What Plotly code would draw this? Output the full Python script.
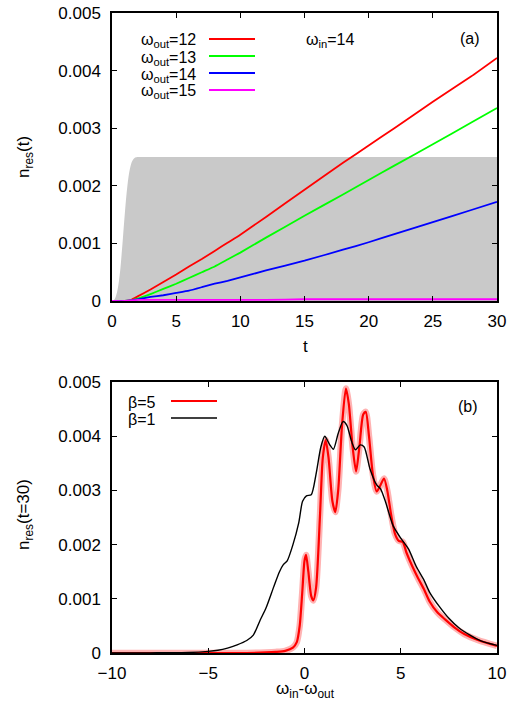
import plotly.graph_objects as go

# ---------------- data: panel (a) ----------------
t_env = [0, 0.2, 0.4, 0.6, 0.8, 1.0, 1.2, 1.4, 1.6, 1.8, 2.0, 2.5, 30]
env = [0, 0.00003, 0.00016, 0.00045, 0.00095, 0.00152, 0.00200, 0.00230, 0.00244, 0.00249, 0.0025, 0.0025, 0.0025]

t = [0, 1, 1.5, 2, 3, 4, 5, 6, 7, 8, 9, 10, 12, 15, 18, 20, 22, 25, 28, 30]
n_out12 = [0, 0, 0.00002, 0.00008, 0.00020, 0.00033, 0.00046, 0.00060, 0.00073, 0.00087, 0.00101,
           0.00115, 0.00146, 0.00193, 0.00240, 0.00270, 0.00300, 0.00346, 0.00390, 0.00422]
n_out13 = [0, 0, 0.00001, 0.00004, 0.00012, 0.00021, 0.00030, 0.00040, 0.00050, 0.00060, 0.00072,
           0.00084, 0.00110, 0.00148, 0.00185, 0.00210, 0.00235, 0.00272, 0.00310, 0.00335]
n_out14 = [0, 0, 0.00001, 0.00003, 0.00007, 0.00010, 0.00014, 0.00018, 0.00024, 0.00030, 0.00035,
           0.00041, 0.00053, 0.00070, 0.00089, 0.00102, 0.00116, 0.00137, 0.00158, 0.00172]
n_out15 = [0, 0, 0.00001, 0.00002, 0.00002, 0.00002, 0.00002, 0.00002, 0.00002, 0.00002, 0.00002,
           0.00002, 0.00002, 0.00003, 0.00003, 0.00003, 0.00003, 0.00003, 0.00003, 0.00003]

# ---------------- data: panel (b) ----------------
dw_b1 = [-10, -8, -6, -5, -4.5, -4, -3.5, -3, -2.66, -2.3, -2.0, -1.6, -1.3, -1.1, -0.9, -0.6, -0.3,
         -0.1, 0.1, 0.35, 0.6, 0.85, 1.05, 1.3, 1.5, 1.75, 2.0, 2.2, 2.45, 2.65, 2.9, 3.1, 3.4, 3.75,
         3.95, 4.2, 4.6, 5.0, 5.4, 5.8, 6.2, 6.5, 7.0, 7.5, 8.0, 8.6, 9.2, 10]
n_b1 = [0, 0.000003, 0.00001, 0.00003, 0.00005, 0.00009, 0.00015, 0.00023, 0.00033, 0.00061, 0.00083,
        0.00122, 0.0015, 0.00163, 0.0017, 0.0020, 0.0024, 0.0028, 0.0029, 0.00292, 0.0033, 0.0038,
        0.0040, 0.00385, 0.00376, 0.00405, 0.00427, 0.0042, 0.0039, 0.00375, 0.00384, 0.0038, 0.0034,
        0.0031, 0.00303, 0.0028, 0.00235, 0.00212, 0.00192, 0.0016, 0.00135, 0.00112, 0.00086,
        0.00064, 0.00047, 0.00033, 0.00022, 0.00014]

dw_b5 = [-10, -3, -2, -1.5, -1.0, -0.6, -0.4, -0.25, -0.12, 0.0, 0.08, 0.2, 0.35, 0.46, 0.6, 0.8,
         0.95, 1.1, 1.25, 1.45, 1.6, 1.75, 1.95, 2.15, 2.3, 2.5, 2.68, 2.85, 3.05, 3.18, 3.35, 3.55,
         3.75, 3.95, 4.13, 4.3, 4.5, 4.7, 4.9, 5.1, 5.3, 5.6, 5.9, 6.2, 6.5, 6.9, 7.3, 7.8, 8.3, 9.0, 10]
n_b5 = [0, 0, 0.00001, 0.00002, 0.00004, 0.0001, 0.0002, 0.0005, 0.0011, 0.0017, 0.00181, 0.0015,
        0.00105, 0.00097, 0.0012, 0.0025, 0.0036, 0.00393, 0.0036, 0.0028, 0.0026, 0.0030, 0.0042,
        0.00488, 0.0046, 0.0038, 0.00335, 0.0038, 0.0044, 0.00445, 0.0040, 0.0033, 0.00298, 0.0031,
        0.00322, 0.0030, 0.00255, 0.0022, 0.00207, 0.00205, 0.00185, 0.0016, 0.00138, 0.00118,
        0.00095, 0.00075, 0.00062, 0.00047, 0.00035, 0.00024, 0.00013]

x_ticks_a = [0, 5, 10, 15, 20, 25, 30]
x_ticks_b = [-10, -5, 0, 5, 10]
y_ticks = [0, 0.001, 0.002, 0.003, 0.004, 0.005]
y_ticktext = ["0", "0.001", "0.002", "0.003", "0.004", "0.005"]

# ---------------- geometry helpers ----------------
W, H = 513, 706
ML, MR, MT, MB = 112, 16, 13, 53
PW, PH = W - ML - MR, H - MT - MB


def px(xp):
    return (xp - ML) / PW


def py(yp):
    return (H - MB - yp) / PH


FONT = "Liberation Sans, Arial, sans-serif"

fig = go.Figure()

# panel (a)
fig.add_trace(go.Scatter(x=t_env, y=env, mode="lines", line=dict(width=0, shape="spline"),
                         fill="tozeroy", fillcolor="#c9c9c9", xaxis="x", yaxis="y",
                         showlegend=False, hoverinfo="skip"))
for ys, col in [(n_out12, "#ff0000"), (n_out13, "#00ff00"), (n_out14, "#0000ff"), (n_out15, "#ff00ff")]:
    fig.add_trace(go.Scatter(x=t, y=ys, mode="lines", line=dict(color=col, width=1.8, shape="spline", smoothing=0.3),
                             xaxis="x", yaxis="y", showlegend=False))

# panel (b)
fig.add_trace(go.Scatter(x=dw_b5, y=n_b5, mode="lines",
                         line=dict(color="#ffb3b3", width=6.5, shape="spline", smoothing=0.7),
                         xaxis="x2", yaxis="y2", showlegend=False, hoverinfo="skip"))
fig.add_trace(go.Scatter(x=dw_b5, y=n_b5, mode="lines",
                         line=dict(color="#ff0000", width=2.2, shape="spline", smoothing=0.7),
                         xaxis="x2", yaxis="y2", showlegend=False))
fig.add_trace(go.Scatter(x=dw_b1, y=n_b1, mode="lines",
                         line=dict(color="#000000", width=1.4, shape="spline", smoothing=0.7),
                         xaxis="x2", yaxis="y2", showlegend=False))

axis_common = dict(showline=True, mirror="ticks", linecolor="black", linewidth=1.5,
                   ticks="inside", ticklen=5, tickcolor="black", tickwidth=1,
                   showgrid=False, zeroline=False, automargin=False,
                   tickfont=dict(family=FONT, size=17, color="black"))

dom_a = [py(301), 1.0]
dom_b = [0.0, py(382)]

fig.update_layout(
    template="none",
    width=W, height=H,
    margin=dict(l=ML, r=MR, t=MT, b=MB, autoexpand=False),
    paper_bgcolor="white", plot_bgcolor="white",
    xaxis=dict(domain=[0, 1], anchor="y", range=[0, 30], tickvals=x_ticks_a,
               ticklabelstandoff=4, **axis_common),
    yaxis=dict(domain=dom_a, anchor="x", range=[0, 0.005], tickvals=y_ticks, ticktext=y_ticktext,
               ticklabelstandoff=6, **axis_common),
    xaxis2=dict(domain=[0, 1], anchor="y2", range=[-10, 10], tickvals=x_ticks_b,
                ticklabelstandoff=4, **axis_common),
    yaxis2=dict(domain=dom_b, anchor="x2", range=[0, 0.005], tickvals=y_ticks, ticktext=y_ticktext,
                ticklabelstandoff=6, **axis_common),
)

ann = []
shapes = []


def text(xp, yp, s, anchor="center", size=16, angle=0):
    ann.append(dict(x=px(xp), y=py(yp), xref="paper", yref="paper", text=s, showarrow=False,
                    xanchor=anchor, yanchor="middle", textangle=angle,
                    font=dict(family=FONT, size=size, color="black")))


def seg(x0, x1, yp, col, w):
    shapes.append(dict(type="line", xref="paper", yref="paper", x0=px(x0), x1=px(x1),
                       y0=py(yp), y1=py(yp), line=dict(color=col, width=w)))


# axis titles
text(25, 157, "n<sub>res</sub>(t)", size=17, angle=-90)
text(305, 346, "t", size=17)
text(25, 515, "n<sub>res</sub>(t=30)", size=17, angle=-90)
text(305, 690, "ω<sub>in</sub>-ω<sub>out</sub>", size=17)

# legend (a)
for i, (lab, col) in enumerate([("12", "#ff0000"), ("13", "#00ff00"), ("14", "#0000ff"), ("15", "#ff00ff")]):
    yy = 39 + i * 17
    text(198, yy + 2, "ω<sub>out</sub>=" + lab, anchor="right")
    seg(209, 255, yy, col, 1.8)
text(304, 40, "ω<sub>in</sub>=14", anchor="left")
text(470, 38, "(a)")

# legend (b)
text(158, 402, "β=5", anchor="right", size=16)
seg(171, 217, 401, "#ff0000", 2.2)
text(158, 419, "β=1", anchor="right", size=16)
seg(171, 217, 418, "#000000", 1.4)
text(468, 406, "(b)")

fig.update_layout(annotations=ann, shapes=shapes)

fig.write_html("out.html", config={"displayModeBar": False},
               post_script="document.body.style.margin='0';document.body.style.overflow='hidden';")
